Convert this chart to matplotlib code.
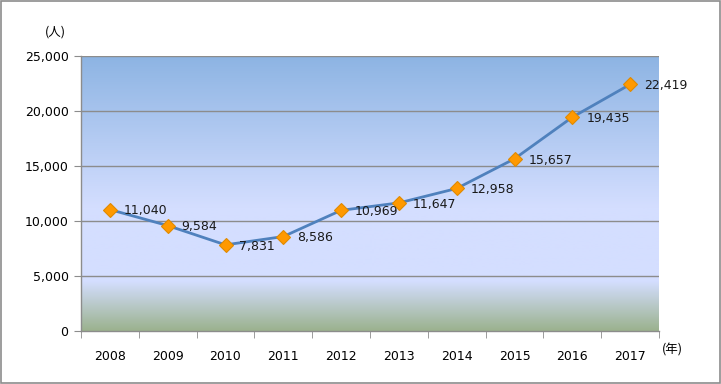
import numpy as np
import matplotlib
matplotlib.use("Agg")
import matplotlib.pyplot as plt
from matplotlib.colors import LinearSegmentedColormap
from matplotlib.patches import Rectangle

years = ["2008", "2009", "2010", "2011", "2012", "2013", "2014", "2015", "2016", "2017"]
values = [11040, 9584, 7831, 8586, 10969, 11647, 12958, 15657, 19435, 22419]
y_ticks = [0, 5000, 10000, 15000, 20000, 25000]

fig = plt.figure(figsize=(7.21, 3.84), dpi=100)
ax = fig.add_axes([81/721, 1-331/384, (659-81)/721, (331-56)/384])

# background gradient (bottom -> top)
cmap = LinearSegmentedColormap.from_list("bg", [
    (0.0, (155/255, 178/255, 142/255)),
    (0.18, (212/255, 222/255, 255/255)),
    (0.45, (212/255, 222/255, 255/255)),
    (1.0, (141/255, 180/255, 227/255)),
])
grad = np.linspace(0, 1, 256).reshape(-1, 1)
ax.imshow(grad, aspect="auto", cmap=cmap, origin="lower",
          extent=[0, 1, 0, 1], transform=ax.transAxes, zorder=0)

x = np.arange(len(years))
ax.set_xlim(-0.5, len(years) - 0.5)
ax.set_ylim(0, 25000)

for yv in y_ticks[1:]:
    ax.axhline(yv, color="#8c8c8c", lw=1, zorder=1)

ax.plot(x, values, color="#4F81BD", lw=2, zorder=3)
ax.plot(x, values, ls="none", marker="D", ms=7, mfc="#FF9900",
        mec="#E08A00", mew=0.8, zorder=4)

for xi, v in zip(x, values):
    ax.annotate(f"{v:,}", (xi, v), xytext=(10, -1), textcoords="offset points",
                ha="left", va="center", fontsize=9, color="#1a1a1a", zorder=5)

ax.set_yticks(y_ticks)
ax.set_yticklabels([f"{t:,}" for t in y_ticks])
ax.set_xticks(x)
ax.set_xticklabels(years)
ax.set_xticks(np.arange(-0.5, len(years)), minor=True)
ax.tick_params(axis="x", which="major", length=0, pad=14, labelsize=9)
ax.tick_params(axis="x", which="minor", length=5, color="#8c8c8c", direction="out")
ax.tick_params(axis="y", length=5, color="#8c8c8c", direction="out", labelsize=9, pad=4)

for s in ["top", "right"]:
    ax.spines[s].set_visible(False)
for s in ["left", "bottom"]:
    ax.spines[s].set_color("#8c8c8c")
    ax.spines[s].set_linewidth(1)

cjk = ["Noto Sans CJK JP", "DejaVu Sans"]
fig.text(55/721, 1-32/384, "(人)", family=cjk, fontsize=9, ha="center", va="center")
fig.text(672/721, 1-350/384, "(年)", family=cjk, fontsize=9, ha="center", va="center")

fig.patches.append(Rectangle((0.001, 0.002), 0.997, 0.995, transform=fig.transFigure,
                             fill=False, edgecolor="#8c8c8c", lw=1.2))

fig.savefig("out.png", dpi=100)
